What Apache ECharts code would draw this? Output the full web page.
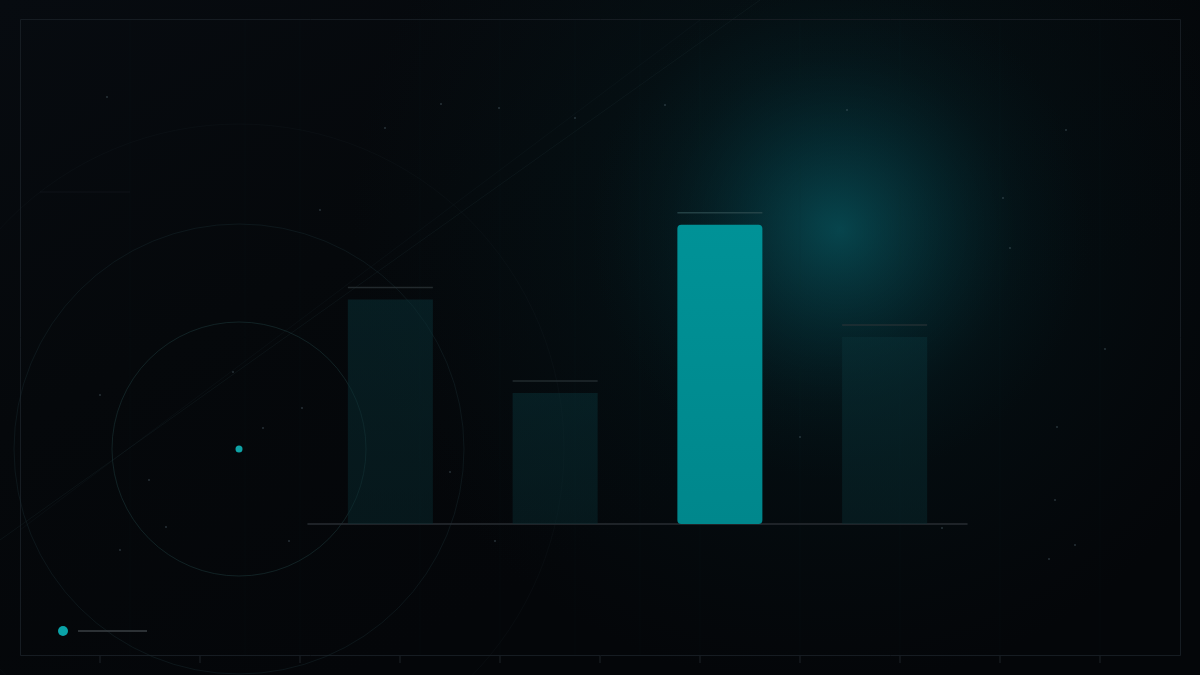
<!DOCTYPE html>
<html>
<head>
<meta charset="utf-8">
<script src="https://cdn.jsdelivr.net/npm/echarts@6/dist/echarts.min.js"></script>
<style>
html,body{margin:0;padding:0;background:#05080c;}
#c{width:1200px;height:675px;}
</style>
</head>
<body>
<div id="c"></div>
<script>
// Data
const categories = ['A', 'B', 'C', 'D'];
const values = [60, 35, 80, 50];
const highlightIndex = 2;

const chart = echarts.init(document.getElementById('c'), null, {renderer: 'canvas'});

const dimBar = new echarts.graphic.LinearGradient(0, 0, 0, 1, [
  {offset: 0, color: 'rgba(9,48,54,0.52)'},
  {offset: 1, color: 'rgba(8,42,47,0.48)'}
]);
const hiBar = new echarts.graphic.LinearGradient(0, 0, 0, 1, [
  {offset: 0, color: '#009297'},
  {offset: 1, color: '#00878c'}
]);

const barData = values.map((v, i) => ({
  value: v,
  itemStyle: i === highlightIndex
    ? {color: hiBar, borderRadius: 4}
    : {color: dimBar, borderRadius: 0}
}));
const capData = values.map((v, i) => ({
  value: v,
  itemStyle: {color: i === highlightIndex ? '#2a4a4e' : '#293236'}
}));

const deco = [];
// background gradient
deco.push({type: 'rect', z: -100, silent: true, shape: {x: 0, y: 0, width: 1200, height: 675},
  style: {fill: new echarts.graphic.LinearGradient(0, 0, 0.3, 1, [
    {offset: 0, color: '#070b10'}, {offset: 0.5, color: '#05080b'}, {offset: 1, color: '#040609'}])}});
// wide haze
deco.push({type: 'circle', z: -95, silent: true, shape: {cx: 820, cy: 220, r: 470},
  style: {fill: new echarts.graphic.RadialGradient(0.5, 0.5, 0.5, [
    {offset: 0, color: 'rgba(6,60,68,0.45)'},
    {offset: 0.45, color: 'rgba(5,40,46,0.22)'},
    {offset: 1, color: 'rgba(5,30,36,0)'}])}});
// core glow
deco.push({type: 'circle', z: -90, silent: true, shape: {cx: 840, cy: 230, r: 250},
  style: {fill: new echarts.graphic.RadialGradient(0.5, 0.5, 0.5, [
    {offset: 0, color: 'rgba(8,95,105,0.6)'},
    {offset: 0.35, color: 'rgba(6,75,85,0.35)'},
    {offset: 0.7, color: 'rgba(4,50,58,0.12)'},
    {offset: 1, color: 'rgba(3,40,48,0)'}])}});
// faint vertical stripes
[130, 245, 300, 420, 500, 575, 640, 700, 800, 900, 1000, 1100].forEach(x => {
  deco.push({type: 'line', z: -80, silent: true, shape: {x1: x, y1: 20, x2: x, y2: 655},
    style: {stroke: 'rgba(30,45,55,0.08)', lineWidth: 1}});
});
// frame
deco.push({type: 'rect', z: -70, silent: true, shape: {x: 20.5, y: 19.5, width: 1160, height: 636},
  style: {fill: 'none', stroke: '#161c22', lineWidth: 1}});
// bottom ticks
for (let x = 100; x <= 1100; x += 100) {
  deco.push({type: 'line', z: -70, silent: true, shape: {x1: x, y1: 656, x2: x, y2: 663},
    style: {stroke: '#1c2328', lineWidth: 1}});
}
// circles
[[127, 'rgba(30,60,62,0.5)'], [225, 'rgba(25,45,50,0.4)'], [325, 'rgba(25,40,45,0.18)']].forEach(([r, c]) => {
  deco.push({type: 'circle', z: -60, silent: true, shape: {cx: 239, cy: 449, r: r},
    style: {fill: 'none', stroke: c, lineWidth: 1}});
});
// diagonal lines
deco.push({type: 'line', z: -60, silent: true, shape: {x1: 0, y1: 540, x2: 760, y2: 0},
  style: {stroke: 'rgba(30,45,50,0.28)', lineWidth: 1}});
deco.push({type: 'line', z: -60, silent: true, shape: {x1: 20, y1: 530, x2: 700, y2: 20},
  style: {stroke: 'rgba(30,45,50,0.18)', lineWidth: 1}});
// horizontal faint lines
deco.push({type: 'line', z: -60, silent: true, shape: {x1: 40, y1: 192, x2: 130, y2: 192},
  style: {stroke: 'rgba(40,50,55,0.25)', lineWidth: 1}});
// center dot
deco.push({type: 'circle', z: -50, silent: true, shape: {cx: 239, cy: 449, r: 3.5},
  style: {fill: '#0fa3a6'}});
// scattered specks
[[107, 97], [441, 104], [499, 108], [575, 118], [665, 105], [385, 128], [233, 372], [263, 428],
 [149, 480], [166, 527], [289, 541], [495, 541], [800, 437], [1057, 427], [1055, 500], [1049, 559],
 [1075, 545], [1105, 349], [1010, 248], [847, 110], [1066, 130], [1003, 198], [942, 528], [100, 395],
 [120, 550], [320, 210], [450, 472], [302, 408]].forEach(([x, y]) => {
  deco.push({type: 'circle', z: -55, silent: true, shape: {cx: x, cy: y, r: 1},
    style: {fill: 'rgba(90,110,120,0.4)'}});
});
// legend-like mark
deco.push({type: 'circle', z: 10, silent: true, shape: {cx: 63, cy: 631, r: 5}, style: {fill: '#0aa3a8'}});
deco.push({type: 'line', z: 10, silent: true, shape: {x1: 78, y1: 631, x2: 147, y2: 631},
  style: {stroke: '#3a4045', lineWidth: 1.5}});

chart.setOption({
  backgroundColor: 'transparent',
  animation: false,
  graphic: {elements: deco},
  grid: {left: 308, right: 233, top: 150, bottom: 151, containLabel: false},
  xAxis: {
    type: 'category', data: categories,
    axisLine: {show: true, lineStyle: {color: '#272d32', width: 1.5}},
    axisTick: {show: false}, axisLabel: {show: false}
  },
  yAxis: {
    type: 'value', min: 0, max: 100, interval: 20,
    axisLine: {show: false}, axisTick: {show: false}, axisLabel: {show: false},
    splitLine: {show: false}
  },
  series: [
    {type: 'bar', data: barData, barWidth: 85, z: 2},
    {type: 'scatter', data: capData, symbol: 'rect', symbolSize: [85, 1.5],
     symbolOffset: [0, -12], z: 3, silent: true}
  ]
});
</script>
</body>
</html>
